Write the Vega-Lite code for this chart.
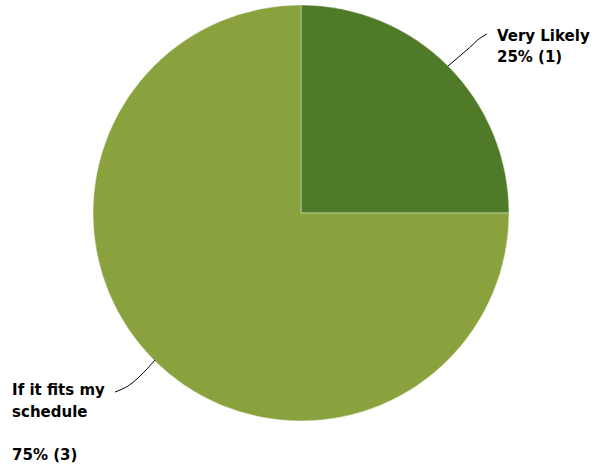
{
  "$schema": "https://vega.github.io/schema/vega-lite/v6.json",
  "width": 602,
  "height": 426,
  "autosize": {"type": "none"},
  "padding": {"left": 0, "top": 0, "right": 0, "bottom": 43},
  "background": "white",
  "config": {"view": {"stroke": null}},
  "layer": [
    {
      "data": {"values": [
        {"answer": "Very Likely", "count": 1, "idx": 1},
        {"answer": "If it fits my schedule", "count": 3, "idx": 2}
      ]},
      "mark": {"type": "arc", "outerRadius": 208, "stroke": "#ffffff", "strokeWidth": 0.4},
      "encoding": {
        "theta": {"field": "count", "type": "quantitative", "stack": true},
        "order": {"field": "idx", "type": "quantitative"},
        "color": {
          "field": "answer", "type": "nominal", "legend": null,
          "scale": {"domain": ["Very Likely", "If it fits my schedule"], "range": ["#4f7a28", "#89a23e"]}
        }
      }
    },
    {
      "data": {"values": [
        {"seg": "a", "k": 1, "u": 0.707, "v": 0.707},
        {"seg": "a", "k": 2, "u": 0.81, "v": 0.795},
        {"seg": "a", "k": 3, "u": 0.86, "v": 0.84},
        {"seg": "a", "k": 4, "u": 0.894, "v": 0.861},
        {"seg": "b", "k": 1, "u": -0.702, "v": -0.707},
        {"seg": "b", "k": 2, "u": -0.774, "v": -0.784},
        {"seg": "b", "k": 3, "u": -0.832, "v": -0.832},
        {"seg": "b", "k": 4, "u": -0.87, "v": -0.851},
        {"seg": "b", "k": 5, "u": -0.894, "v": -0.861}
      ]},
      "mark": {"type": "line", "color": "#000000", "strokeWidth": 1, "interpolate": "monotone"},
      "encoding": {
        "x": {"field": "u", "type": "quantitative", "axis": null, "scale": {"domain": [-1.4471, 1.4471], "nice": false, "zero": false}},
        "y": {"field": "v", "type": "quantitative", "axis": null, "scale": {"domain": [-1.024, 1.024], "nice": false, "zero": false}},
        "detail": {"field": "seg", "type": "nominal"},
        "order": {"field": "k", "type": "quantitative"}
      }
    },
    {
      "data": {"values": [
        {"label": "Very Likely\n25% (1)", "u": 0.942, "v": 0.827},
        {"label": "If it fits my\nschedule", "u": -1.389, "v": -0.875},
        {"label": "75% (3)", "u": -1.389, "v": -1.1875}
      ]},
      "mark": {"type": "text", "align": "left", "baseline": "alphabetic", "font": "DejaVu Sans", "fontWeight": "bold", "fontSize": 15, "lineHeight": 21.5, "lineBreak": "\n", "color": "#000000"},
      "encoding": {
        "x": {"field": "u", "type": "quantitative", "axis": null, "scale": {"domain": [-1.4471, 1.4471], "nice": false, "zero": false}},
        "y": {"field": "v", "type": "quantitative", "axis": null, "scale": {"domain": [-1.024, 1.024], "nice": false, "zero": false}},
        "text": {"field": "label", "type": "nominal"}
      }
    }
  ]
}
